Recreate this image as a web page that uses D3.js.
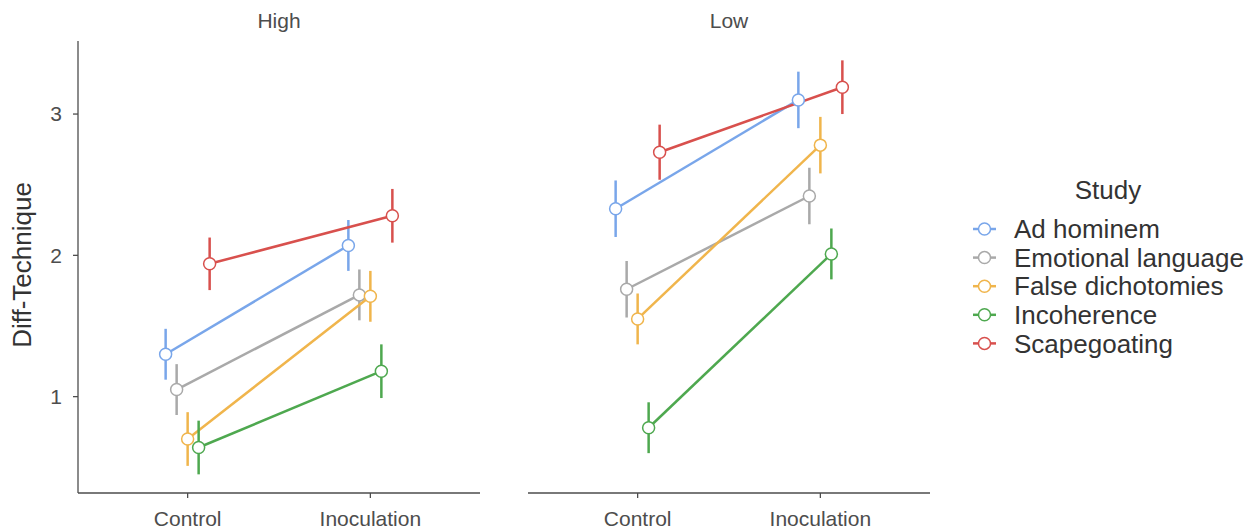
<!DOCTYPE html>
<html>
<head>
<meta charset="utf-8">
<script src="https://cdn.jsdelivr.net/npm/d3@7"></script>
<style>
  body { margin: 0; background: #fff; }
  text { font-family: "Liberation Sans", Arial, sans-serif; }
</style>
</head>
<body>
<script>
// data
var panels = ["High", "Low"];
var conditions = ["Control", "Inoculation"];
var studies = ["Ad hominem", "Emotional language", "False dichotomies", "Incoherence", "Scapegoating"];
var colors = ["#79a6ea", "#a9a9a9", "#f0b54c", "#4ea84f", "#d8504d"];
var yTicks = [1, 2, 3];

// mean per study: [Control, Inoculation]
var highMeans = [[1.30, 2.07], [1.05, 1.72], [0.70, 1.71], [0.64, 1.18], [1.94, 2.28]];
var highErr   = [[0.18, 0.18], [0.18, 0.18], [0.19, 0.18], [0.19, 0.19], [0.186, 0.19]];
var lowMeans  = [[2.33, 3.10], [1.76, 2.42], [1.55, 2.78], [0.78, 2.01], [2.73, 3.19]];
var lowErr    = [[0.20, 0.20], [0.20, 0.20], [0.18, 0.20], [0.18, 0.18], [0.195, 0.19]];

var w = 1255;
var h = 532;

var svg = d3.select("body")
    .append("svg")
    .attr("width", w)
    .attr("height", h);

var yScale = d3.scaleLinear()
    .domain([0.318, 3.517])
    .range([493, 41]);

// discrete x with ggplot-like expansion of 0.6 on each side
var panelLeft = [78, 528];
var panelWidth = 402;
var dodge = d3.scalePoint()
    .domain(studies)
    .range([-22, 22]);

var lineGen = d3.line()
    .x(function(d) { return d.x; })
    .y(function(d) { return yScale(d.y); });

panels.forEach(function(p, pi) {
    var means = pi === 0 ? highMeans : lowMeans;
    var errs = pi === 0 ? highErr : lowErr;

    var xScale = d3.scaleLinear()
        .domain([0.4, 2.6])
        .range([panelLeft[pi], panelLeft[pi] + panelWidth]);

    var g = svg.append("g");

    // strip label
    g.append("text")
        .attr("x", panelLeft[pi] + panelWidth / 2)
        .attr("y", 28)
        .attr("text-anchor", "middle")
        .attr("font-size", 21)
        .attr("fill", "#4d4d4d")
        .text(p);

    // x axis
    g.append("line")
        .attr("x1", panelLeft[pi]).attr("x2", panelLeft[pi] + panelWidth)
        .attr("y1", 493).attr("y2", 493)
        .attr("stroke", "#4d4d4d").attr("stroke-width", 1.3);
    conditions.forEach(function(c, ci) {
        var x = xScale(ci + 1);
        g.append("line")
            .attr("x1", x).attr("x2", x)
            .attr("y1", 493).attr("y2", 498)
            .attr("stroke", "#4d4d4d").attr("stroke-width", 1.3);
        g.append("text")
            .attr("x", x)
            .attr("y", 526)
            .attr("text-anchor", "middle")
            .attr("font-size", 21)
            .attr("fill", "#4d4d4d")
            .text(c);
    });

    // y axis only on first panel
    if (pi === 0) {
        g.append("line")
            .attr("x1", panelLeft[pi]).attr("x2", panelLeft[pi])
            .attr("y1", 41).attr("y2", 493)
            .attr("stroke", "#4d4d4d").attr("stroke-width", 1.3);
        yTicks.forEach(function(t) {
            g.append("line")
                .attr("x1", panelLeft[pi] - 5).attr("x2", panelLeft[pi])
                .attr("y1", yScale(t)).attr("y2", yScale(t))
                .attr("stroke", "#4d4d4d").attr("stroke-width", 1.3);
            g.append("text")
                .attr("x", panelLeft[pi] - 16)
                .attr("y", yScale(t))
                .attr("dy", "0.35em")
                .attr("text-anchor", "end")
                .attr("font-size", 21)
                .attr("fill", "#4d4d4d")
                .text(t);
        });
    }

    studies.forEach(function(s, si) {
        var pts = conditions.map(function(c, ci) {
            return { x: xScale(ci + 1) + dodge(s), y: means[si][ci], e: errs[si][ci] };
        });
        g.append("path")
            .datum(pts)
            .attr("d", lineGen)
            .attr("fill", "none")
            .attr("stroke", colors[si])
            .attr("stroke-width", 2.5);
        g.selectAll(null)
            .data(pts)
            .enter()
            .append("line")
            .attr("x1", function(d) { return d.x; })
            .attr("x2", function(d) { return d.x; })
            .attr("y1", function(d) { return yScale(d.y - d.e); })
            .attr("y2", function(d) { return yScale(d.y + d.e); })
            .attr("stroke", colors[si])
            .attr("stroke-width", 2.5);
    });
    // points drawn on top
    studies.forEach(function(s, si) {
        g.selectAll(null)
            .data(conditions)
            .enter()
            .append("circle")
            .attr("cx", function(c, ci) { return xScale(ci + 1) + dodge(s); })
            .attr("cy", function(c, ci) { return yScale(means[si][ci]); })
            .attr("r", 6)
            .attr("fill", "#fff")
            .attr("stroke", colors[si])
            .attr("stroke-width", 1.5);
    });
});

// y axis title
svg.append("text")
    .attr("transform", "translate(31,265) rotate(-90)")
    .attr("text-anchor", "middle")
    .attr("font-size", 26)
    .attr("fill", "#333")
    .text("Diff-Technique");

// legend
var legend = svg.append("g").attr("transform", "translate(973,0)");
legend.append("text")
    .attr("x", 135)
    .attr("y", 199)
    .attr("text-anchor", "middle")
    .attr("font-size", 26)
    .attr("fill", "#333")
    .text("Study");
var rows = legend.selectAll("g.row")
    .data(studies)
    .enter()
    .append("g")
    .attr("class", "row")
    .attr("transform", function(d, i) { return "translate(0," + (229 + i * 28.6) + ")"; });
rows.append("line")
    .attr("x1", 0).attr("x2", 23)
    .attr("stroke", function(d, i) { return colors[i]; })
    .attr("stroke-width", 2.5);
rows.append("circle")
    .attr("cx", 11.5)
    .attr("r", 6)
    .attr("fill", "#fff")
    .attr("stroke", function(d, i) { return colors[i]; })
    .attr("stroke-width", 1.5);
rows.append("text")
    .attr("x", 41)
    .attr("dy", "0.35em")
    .attr("font-size", 26)
    .attr("fill", "#333")
    .text(function(d) { return d; });
</script>
</body>
</html>
